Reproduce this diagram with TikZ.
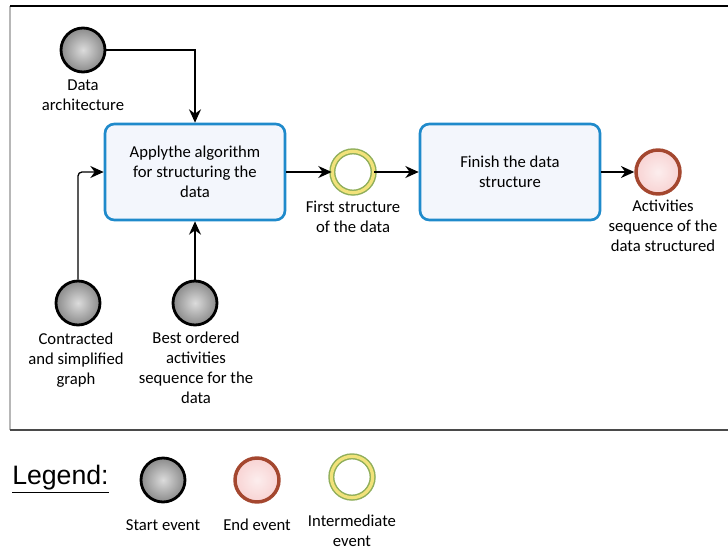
\documentclass[tikz,border=0pt]{standalone}
\usepackage{fontspec}
\setmainfont{Carlito}
\newfontfamily\legendfont{Liberation Sans}
\usetikzlibrary{arrows.meta, positioning, shapes.geometric, calc}
\definecolor{ctask}{HTML}{1F8ACB}
\definecolor{ctaskfill}{HTML}{F3F6FC}
\definecolor{cstart}{HTML}{9A9A9A}
\definecolor{cendline}{HTML}{A4472F}
\definecolor{cendfill}{HTML}{F8D3D3}
\definecolor{cmidline}{HTML}{8FAE5A}
\definecolor{cmidring}{HTML}{F2E27A}
\definecolor{cframe}{HTML}{4A4A4A}
\tikzset{
  every picture/.style={x=0.75pt, y=-0.75pt},
  task/.style={draw=ctask, fill=ctaskfill, line width=2pt, rounded corners=7pt, align=center,
    minimum width=135pt, minimum height=72pt, font=\fontsize{12.5}{15}\selectfont},
  startev/.style={circle, draw=black, line width=2.1pt, inner color=cstart!35, outer color=cstart!90!black,
    minimum size=33pt, inner sep=0pt},
  endev/.style={circle, draw=cendline, line width=2.6pt, inner color=cendfill!40, outer color=cendfill,
    minimum size=33pt, inner sep=0pt},
  midev/.style={circle, draw=cmidline, line width=1.1pt, double=cmidring, double distance=2.4pt, fill=white,
    minimum size=31pt, inner sep=0pt},
  lbl/.style={align=center, font=\fontsize{12.5}{15}\selectfont, inner sep=0pt, anchor=north},
  flow/.style={-{Stealth[length=10pt, width=9pt]}, draw=black, line width=1pt},
}
\begin{document}
\begin{tikzpicture}
  \useasboundingbox (0,0) rectangle (728,553);

  % frame of the process
  \draw[cframe!40, line width=0.8pt] (10,6) -- (10,430);
  \draw[black, line width=1.3pt] (10,6) -- (728,6);
  \draw[cframe, line width=1.6pt] (10,430) -- (728,430);

  % tasks
  \node[task] (apply)  at (195,172) {Applythe algorithm\\for structuring the\\data};
  \node[task] (finish) at (510,172) {Finish the data\\structure};

  % events
  \node[startev] (arch)  at (83,50)   {};
  \node[startev] (graph) at (78,303)  {};
  \node[startev] (best)  at (195,303) {};
  \node[midev]   (first) at (353,172) {};
  \node[endev]   (seq)   at (658,172) {};

  \node[lbl] (archlbl)  at (83,80)   {Data\\architecture};
  \node[lbl] (graphlbl) at (76,333)  {Contracted\\and simplified\\graph};
  \node[lbl] (bestlbl)  at (196,332) {Best ordered\\activities\\sequence for the\\data};
  \node[lbl] (firstlbl) at (353,201) {First structure\\of the data};
  \node[lbl] (seqlbl)   at (663,200) {Activities\\sequence of the\\data structured};

  % sequence flows
  \draw[flow] (arch.east) -| (apply.north);
  \draw[flow, rounded corners=3pt] (graph.north) |- (apply.west);
  \draw[flow] (best.north) -- (apply.south);
  \draw[flow] (apply.east) -- (first.west);
  \draw[flow] (first.east) -- (finish.west);
  \draw[flow] (finish.east) -- (seq.west);

  % legend
  \node[anchor=west, inner sep=0pt, font=\legendfont\fontsize{20}{24}\selectfont] (legend) at (12,479) {\underline{Legend:}};
  \node[startev] (lstart) at (163,480) {};
  \node[endev]   (lend)   at (257,480) {};
  \node[midev]   (lmid)   at (352,477) {};
  \node[lbl] (lstartlbl) at (163,519) {Start event};
  \node[lbl] (lendlbl)   at (257,519) {End event};
  \node[lbl] (lmidlbl)   at (352,515) {Intermediate\\event};
\end{tikzpicture}
\end{document}
